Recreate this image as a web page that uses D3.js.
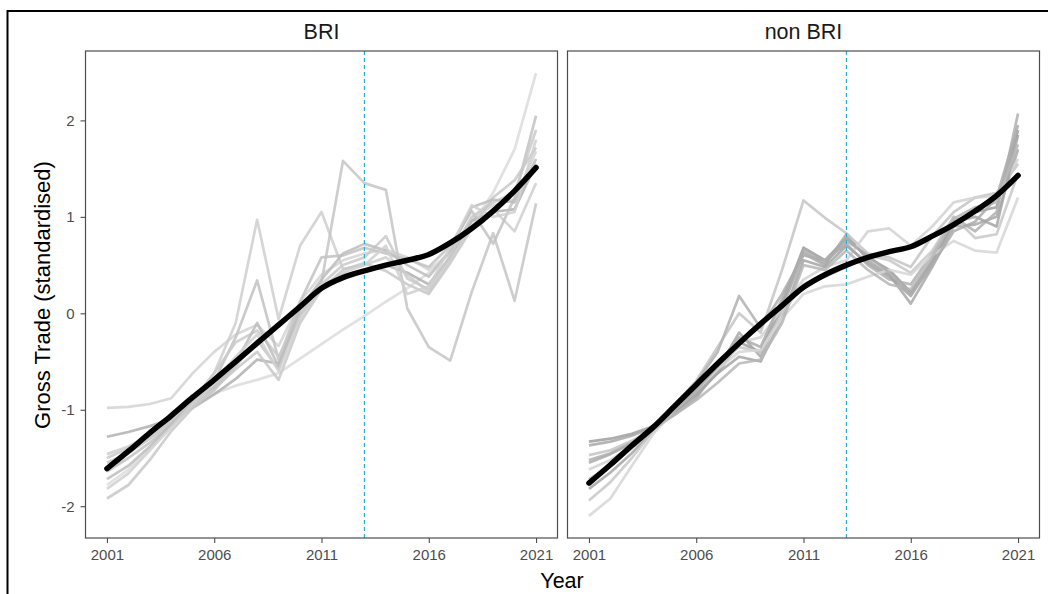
<!DOCTYPE html>
<html>
<head>
<meta charset="utf-8">
<script src="https://cdn.jsdelivr.net/npm/d3@7"></script>
<style>
  html, body { margin: 0; padding: 0; background: #fff; }
  svg { display: block; font-family: "Liberation Sans", Arial, sans-serif; }
</style>
</head>
<body>
<svg id="chart" width="1048" height="594"></svg>
<script>
// Years on the x axis
const years = d3.range(2001, 2022);

// Facet titles
const panelNames = ["BRI", "non BRI"];

// Year of the marked break (dashed line)
const breakYear = 2013;

// Axis tick values
const xTicks = [2001, 2006, 2011, 2016, 2021];
const yTicks = [-2, -1, 0, 1, 2];

// Standardised gross trade, BRI partners (one row per partner)
const briLines = [
  [-0.98,-0.97,-0.94,-0.88,-0.62,-0.40,-0.22,-0.12,-0.34,0.12,0.40,0.55,0.62,0.66,0.58,0.45,0.62,0.98,1.12,1.18,1.68],
  [-1.78,-1.62,-1.40,-1.16,-0.95,-0.83,-0.75,-0.69,-0.62,-0.47,-0.32,-0.17,-0.03,0.12,0.26,0.42,0.65,0.92,1.25,1.70,2.49],
  [-1.28,-1.23,-1.17,-1.10,-0.98,-0.84,-0.68,-0.48,-0.52,-0.02,0.26,0.40,0.44,0.50,0.42,0.30,0.58,0.96,1.05,1.08,1.55],
  [-1.46,-1.38,-1.26,-1.12,-0.92,-0.62,-0.10,0.97,-0.06,0.70,1.05,0.46,0.50,0.58,0.40,0.22,0.55,0.90,1.08,0.85,1.35],
  [-1.55,-1.45,-1.30,-1.14,-0.96,-0.80,-0.55,-0.28,-0.58,0.05,0.32,1.58,1.35,1.28,0.05,-0.35,-0.49,0.22,0.83,0.13,1.14],
  [-1.64,-1.50,-1.34,-1.16,-0.96,-0.70,-0.25,0.34,-0.48,0.12,0.58,0.60,0.68,0.62,0.56,0.48,0.70,1.06,0.72,1.20,2.05],
  [-1.50,-1.40,-1.27,-1.12,-0.90,-0.62,-0.30,-0.18,-0.45,0.00,0.30,0.50,0.58,0.80,0.36,0.25,0.60,1.00,1.15,1.25,1.90],
  [-1.92,-1.78,-1.52,-1.22,-0.98,-0.78,-0.58,-0.40,-0.69,-0.10,0.25,0.45,0.52,0.44,0.30,0.20,0.52,0.88,1.20,1.38,1.72],
  [-1.72,-1.58,-1.38,-1.15,-0.92,-0.76,-0.52,-0.10,-0.55,0.05,0.35,0.62,0.72,0.65,0.50,0.38,0.65,1.10,1.18,1.15,1.60],
  [-1.82,-1.66,-1.42,-1.18,-0.94,-0.72,-0.45,-0.22,-0.60,-0.05,0.28,0.42,0.50,0.70,0.20,0.28,0.68,1.12,1.00,1.05,1.80]
];

// Standardised gross trade, non-BRI partners
const nonBriLines = [
  [-1.33,-1.30,-1.25,-1.17,-1.02,-0.85,-0.62,-0.30,-0.40,0.10,0.68,0.55,0.78,0.58,0.45,0.22,0.55,0.95,1.05,1.10,1.90],
  [-1.37,-1.33,-1.27,-1.18,-1.05,-0.88,-0.58,-0.20,-0.45,0.05,0.62,0.50,0.82,0.55,0.40,0.10,0.48,0.90,0.92,1.00,1.70],
  [-1.47,-1.42,-1.32,-1.20,-0.95,-0.70,-0.35,0.00,-0.20,0.45,1.17,0.99,0.83,0.62,0.58,0.48,0.80,1.05,1.20,1.25,1.55],
  [-1.52,-1.45,-1.34,-1.20,-0.98,-0.72,-0.40,0.18,-0.15,0.20,0.60,0.55,0.72,0.50,0.35,0.30,0.62,1.00,0.85,1.05,2.07],
  [-1.62,-1.52,-1.38,-1.20,-0.98,-0.75,-0.50,-0.30,-0.25,0.05,0.35,0.48,0.55,0.85,0.88,0.70,0.90,1.15,1.20,1.22,1.60],
  [-1.82,-1.65,-1.45,-1.22,-1.02,-0.82,-0.62,-0.45,-0.50,-0.05,0.55,0.48,0.70,0.52,0.38,0.18,0.52,0.95,1.00,0.90,1.85],
  [-1.94,-1.75,-1.50,-1.22,-1.00,-0.78,-0.55,-0.35,-0.40,0.00,0.30,0.38,0.48,0.60,0.55,0.42,0.65,1.00,0.78,0.82,1.45],
  [-2.10,-1.92,-1.58,-1.25,-1.00,-0.80,-0.58,-0.40,-0.38,-0.05,0.20,0.28,0.30,0.38,0.45,0.40,0.60,0.75,0.65,0.63,1.20],
  [-1.72,-1.58,-1.40,-1.20,-1.05,-0.90,-0.72,-0.52,-0.48,-0.10,0.50,0.45,0.65,0.45,0.30,0.25,0.58,0.98,1.10,1.15,1.75],
  [-1.55,-1.46,-1.35,-1.20,-1.00,-0.80,-0.55,-0.25,-0.35,0.15,0.65,0.52,0.75,0.60,0.42,0.20,0.50,0.85,0.95,1.20,1.95]
];

// Smoothed group trends
const briTrend = [-1.61,-1.43,-1.24,-1.06,-0.87,-0.69,-0.50,-0.31,-0.12,0.07,0.26,0.37,0.44,0.50,0.55,0.61,0.73,0.88,1.06,1.27,1.51];
const nonBriTrend = [-1.76,-1.57,-1.37,-1.18,-0.96,-0.74,-0.52,-0.31,-0.11,0.08,0.27,0.40,0.50,0.58,0.64,0.69,0.80,0.92,1.06,1.22,1.43];

// Grey shades for the partner lines
const briGreys = ["#d4d4d4","#dcdcdc","#b0b0b0","#cfcfcf","#c6c6c6","#c2c2c2","#cacaca","#c8c8c8","#bdbdbd","#d0d0d0"];
const nonBriGreys = ["#9e9e9e","#a8a8a8","#c4c4c4","#b0b0b0","#d2d2d2","#a4a4a4","#c8c8c8","#d6d6d6","#b6b6b6","#acacac"];

const panels = [
  { name: panelNames[0], lines: briLines, trend: briTrend, greys: briGreys, x0: 85.5, x1: 557.5 },
  { name: panelNames[1], lines: nonBriLines, trend: nonBriTrend, greys: nonBriGreys, x0: 567.5, x1: 1039.5 }
];

const plotTop = 51, plotBottom = 538;
const svg = d3.select("#chart");

// Outer frame
svg.append("rect")
  .attr("x", 7.5).attr("y", 11)
  .attr("width", 1060).attr("height", 600)
  .attr("fill", "none").attr("stroke", "#000").attr("stroke-width", 2);

// Shared y scale, 5% padding around the data range
const allVals = briLines.flat().concat(nonBriLines.flat());
const [vMin, vMax] = d3.extent(allVals);
const vPad = (vMax - vMin) * 0.05;
const y = d3.scaleLinear().domain([vMin - vPad, vMax + vPad]).range([plotBottom, plotTop]);

const [yrMin, yrMax] = d3.extent(years);
const yrPad = (yrMax - yrMin) * 0.05;

// Plain hyphen for negative tick labels
const plainNum = d => String(d);

panels.forEach((p, pi) => {
  const x = d3.scaleLinear().domain([yrMin - yrPad, yrMax + yrPad]).range([p.x0, p.x1]);
  const g = svg.append("g");

  // Strip title
  g.append("text")
    .attr("x", (p.x0 + p.x1) / 2)
    .attr("y", 38.5)
    .attr("text-anchor", "middle")
    .attr("font-size", 21.5)
    .attr("fill", "#1a1a1a")
    .text(p.name);

  const line = d3.line()
    .x((d, i) => x(years[i]))
    .y(d => y(d));

  // Partner lines
  g.append("g").selectAll("path")
    .data(p.lines)
    .join("path")
    .attr("d", line)
    .attr("fill", "none")
    .attr("stroke", (d, i) => p.greys[i])
    .attr("stroke-width", 2.7)
    .attr("stroke-opacity", 0.85)
    .attr("stroke-linejoin", "round");

  // Break year marker
  g.append("line")
    .attr("x1", x(breakYear)).attr("x2", x(breakYear))
    .attr("y1", plotTop).attr("y2", plotBottom)
    .attr("stroke", "#29b1d3")
    .attr("stroke-width", 1.2)
    .attr("stroke-dasharray", "4,3");

  // Group trend
  g.append("path")
    .datum(p.trend)
    .attr("d", d3.line().x((d, i) => x(years[i])).y(d => y(d)).curve(d3.curveCatmullRom))
    .attr("fill", "none")
    .attr("stroke", "#000")
    .attr("stroke-width", 5.5)
    .attr("stroke-linecap", "round");

  // Panel border
  g.append("rect")
    .attr("x", p.x0).attr("y", plotTop)
    .attr("width", p.x1 - p.x0).attr("height", plotBottom - plotTop)
    .attr("fill", "none").attr("stroke", "#4d4d4d").attr("stroke-width", 1.2);

  // x axis
  const xAxis = g.append("g")
    .attr("transform", `translate(0,${plotBottom})`)
    .call(d3.axisBottom(x).tickValues(xTicks).tickFormat(plainNum).tickSize(5).tickPadding(6));
  xAxis.select(".domain").remove();
  xAxis.selectAll("line").attr("stroke", "#4d4d4d").attr("stroke-width", 1.1);
  xAxis.selectAll("text").attr("fill", "#4d4d4d").attr("font-size", 15)
    .attr("font-family", "Liberation Sans, Arial, sans-serif");

  // y axis on the first panel only
  if (pi === 0) {
    const yAxis = g.append("g")
      .attr("transform", `translate(${p.x0},0)`)
      .call(d3.axisLeft(y).tickValues(yTicks).tickFormat(plainNum).tickSize(5).tickPadding(6));
    yAxis.select(".domain").remove();
    yAxis.selectAll("line").attr("stroke", "#4d4d4d").attr("stroke-width", 1.1);
    yAxis.selectAll("text").attr("fill", "#4d4d4d").attr("font-size", 15)
      .attr("font-family", "Liberation Sans, Arial, sans-serif");
  }
});

// Axis titles
svg.append("text")
  .attr("x", 562).attr("y", 588)
  .attr("text-anchor", "middle")
  .attr("font-size", 21.5)
  .attr("fill", "#000")
  .text("Year");

svg.append("text")
  .attr("transform", "translate(50,295) rotate(-90)")
  .attr("text-anchor", "middle")
  .attr("font-size", 22)
  .attr("fill", "#000")
  .text("Gross Trade (standardised)");
</script>
</body>
</html>
